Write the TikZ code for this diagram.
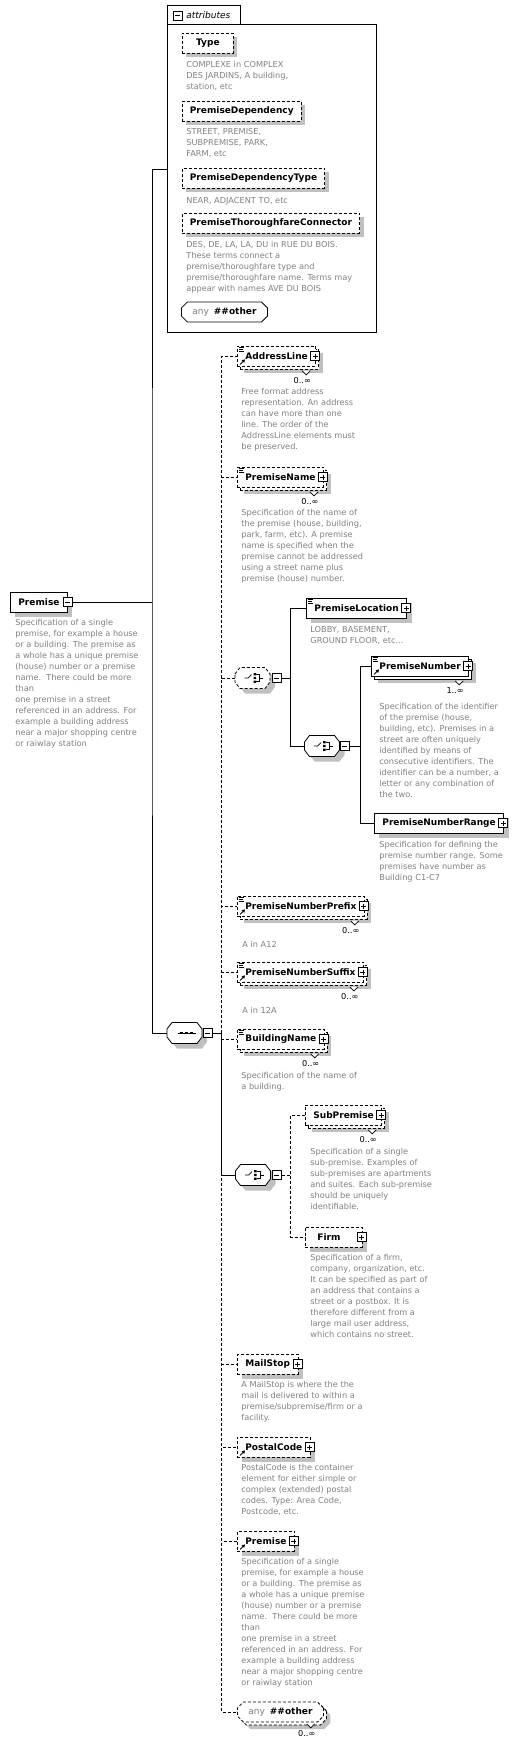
\documentclass[tikz,border=0pt]{standalone}
\usepackage{fontspec}
\setmainfont{DejaVu Sans}
\usetikzlibrary{shapes.misc,shadows,arrows.meta}

\definecolor{descgray}{RGB}{128,128,128}
\definecolor{shadowgray}{RGB}{192,192,192}

\newcommand{\elemfont}{\fontsize{9}{11}\selectfont\bfseries}
\newcommand{\descfont}{\fontsize{8.2}{11}\selectfont}
\newcommand{\multfont}{\fontsize{8.2}{10}\selectfont}
\newcommand{\pgap}{\hspace{10pt}}

\tikzset{
  dsh/.style={dash pattern=on 3pt off 2pt},
  shad/.style={drop shadow={shadow xshift=#1,shadow yshift=-#1,fill=shadowgray,opacity=1}},
  elem/.style={draw,fill=white,anchor=west,minimum height=20pt,inner xsep=8pt,inner ysep=0pt,font=\elemfont},
  req/.style={elem,shad=5pt},
  opt/.style={elem,shad=5pt,dsh},
  reqn/.style={elem,shad=7pt,copy shadow={shadow xshift=3pt,shadow yshift=-3pt}},
  optn/.style={elem,dsh,shad=7pt,copy shadow={shadow xshift=3pt,shadow yshift=-3pt,dsh}},
  attrib/.style={elem,dsh,shad=4pt,inner xsep=7.5pt},
  wild/.style={elem,chamfered rectangle,chamfered rectangle xsep=3pt,chamfered rectangle ysep=3pt},
  comp/.style={minimum width=35pt,minimum height=21pt,inner sep=0pt},
  pmbox/.style={draw,solid,fill=white,minimum size=9pt,inner sep=0pt},
  plusbox/.style={pmbox,path picture={
      \draw[solid,line width=0.7pt] ([xshift=2pt]path picture bounding box.west) -- ([xshift=-2pt]path picture bounding box.east)
        ([yshift=-2pt]path picture bounding box.north) -- ([yshift=2pt]path picture bounding box.south);}},
  minusbox/.style={pmbox,path picture={
      \draw[solid,line width=0.7pt] ([xshift=2pt]path picture bounding box.west) -- ([xshift=-2pt]path picture bounding box.east);}},
  desc/.style={anchor=north west,inner sep=0pt,align=left,font=\descfont,text=descgray,execute at begin node=\strut},
  mult/.style={anchor=east,inner sep=0pt,font=\multfont},
  compframe/.pic={
    \path[draw,fill=white,shad=5pt,pic actions] (-17.5,-4) -- (-12.5,-10.5) -- (12.5,-10.5) -- (17.5,-4)
      -- (17.5,4) -- (12.5,10.5) -- (-12.5,10.5) -- (-17.5,4) -- cycle;
  },
  choiceicon/.pic={
    \draw[line width=0.7pt] (-9,0) -- (-5.5,0) -- (-2,-3.5);
    \fill (0,-4.8) rectangle (2.6,-2.6) (0,-1.1) rectangle (2.6,1.1) (0,2.6) rectangle (2.6,4.8);
    \draw[line width=0.7pt] (2.6,-3.7) -- (6,-3.7) -- (6,3.7) -- (2.6,3.7) (6,0) -- (9.5,0);
  },
  seqicon/.pic={
    \draw[line width=0.7pt] (-9,0) -- (9,0);
    \foreach \i in {-5,0,5} \fill (\i-1.2,-1.2) rectangle (\i+1.2,1.2);
  }
}

\begin{document}
\begin{tikzpicture}[x=1pt,y=-1pt,line width=0.8pt]
\useasboundingbox (0,0) rectangle (526,1746);

% root element
\node[req] (prm) at (10,602) {Premise\hspace{2pt}};
\node[minusbox] (prm-m) at (prm.east) {};
\node[desc] (prm-d) at (15,619.3) {Specification of a single\\premise, for example a house\\or a building. The premise as\\a whole has a unique premise\\(house) number or a premise\\name.\ \ There could be more\\than\\one premise in a street\\referenced in an address. For\\example a building address\\near a major shopping centre\\or raiwlay station};

% attributes
\node[draw,anchor=north west,minimum width=209pt,minimum height=308pt,inner sep=0pt] (attr) at (167,24) {};
\draw (attr.north west) -- ++(0,-19) -- ++(73,0) -- ++(0,19);
\node[minusbox] (attr-m) at (177.5,15.5) {};
\node[anchor=west,inner sep=0pt,font=\fontsize{9}{11}\selectfont\itshape] (attr-t) at (186,15) {attributes};

\node[attrib,minimum width=51pt] (type) at (182,43) {Type};
\node[desc] (type-d) at (186,61.3) {COMPLEXE in COMPLEX\\DES JARDINS, A building,\\station, etc};
\node[attrib] (pdep) at (182,111) {PremiseDependency};
\node[desc] (pdep-d) at (186,128.3) {STREET, PREMISE,\\SUBPREMISE, PARK,\\FARM, etc};
\node[attrib] (pdt) at (182,178) {PremiseDependencyType};
\node[desc] (pdt-d) at (186,195.3) {NEAR, ADJACENT TO, etc};
\node[attrib] (ptc) at (182,223) {PremiseThoroughfareConnector};
\node[desc] (ptc-d) at (186,241.3) {DES, DE, LA, LA, DU in RUE DU BOIS.\\These terms connect a\\premise/thoroughfare type and\\premise/thoroughfare name. Terms may\\appear with names AVE DU BOIS};
\node[wild] (attr-any) at (181,312) {{\mdseries\color{descgray}any}\hspace{5pt}\#\#other};

% sequence
\node[comp] (seq) at (184.5,1033) {};
\pic at (seq) {compframe};
\pic (seq-i) at ([xshift=2pt]seq.center) {seqicon};
\node[minusbox] (seq-m) at ([xshift=5.5pt]seq.east) {};

\node[optn] (al) at (237,356) {AddressLine\pgap};
\node[desc] (al-d) at (241,388.3) {Free format address\\representation. An address\\can have more than one\\line. The order of the\\AddressLine elements must\\be preserved.};
\node[optn] (pname) at (237,477) {PremiseName\pgap};
\node[desc] (pname-d) at (241,509.3) {Specification of the name of\\the premise (house, building,\\park, farm, etc). A premise\\name is specified when the\\premise cannot be addressed\\using a street name plus\\premise (house) number.};

% choice: location or number
\node[comp] (ch1) at (252.5,678) {};
\pic[dsh] at (ch1) {compframe};
\pic (ch1-i) at ([xshift=1pt]ch1.center) {choiceicon};
\node[minusbox] (ch1-m) at ([xshift=6pt]ch1.east) {};
\node[req] (ploc) at (306,608) {PremiseLocation\pgap};
\node[desc] (ploc-d) at (310,626.3) {LOBBY, BASEMENT,\\GROUND FLOOR, etc...};

\node[comp] (ch2) at (322,746) {};
\pic at (ch2) {compframe};
\pic (ch2-i) at ([xshift=1pt]ch2.center) {choiceicon};
\node[minusbox] (ch2-m) at ([xshift=5pt]ch2.east) {};
\node[reqn] (pnum) at (371,666) {PremiseNumber\pgap};
\node[desc] (pnum-d) at (379,703.3) {Specification of the identifier\\of the premise (house,\\building, etc). Premises in a\\street are often uniquely\\identified by means of\\consecutive identifiers. The\\identifier can be a number, a\\letter or any combination of\\the two.};
\node[req] (pnr) at (374,823) {PremiseNumberRange\pgap};
\node[desc] (pnr-d) at (379,841.3) {Specification for defining the\\premise number range. Some\\premises have number as\\Building C1-C7};

\node[optn] (pfx) at (237,906) {PremiseNumberPrefix\pgap};
\node[desc] (pfx-d) at (242,939.3) {A in A12};
\node[optn] (sfx) at (237,972) {PremiseNumberSuffix\pgap};
\node[desc] (sfx-d) at (242,1005.3) {A in 12A};
\node[optn] (bn) at (237,1039) {BuildingName\pgap};
\node[desc] (bn-d) at (241,1072.3) {Specification of the name of\\a building.};

% choice: subpremise or firm
\node[comp] (ch3) at (253,1175) {};
\pic at (ch3) {compframe};
\pic (ch3-i) at ([xshift=1pt]ch3.center) {choiceicon};
\node[minusbox] (ch3-m) at ([xshift=6pt]ch3.east) {};
\node[optn] (subp) at (305,1115) {SubPremise\pgap};
\node[desc] (subp-d) at (310,1148.3) {Specification of a single\\sub-premise. Examples of\\sub-premises are apartments\\and suites. Each sub-premise\\should be uniquely\\identifiable.};
\node[opt,minimum width=57pt] (firm) at (305,1237) {Firm\pgap\hspace{8pt}};
\node[desc] (firm-d) at (310,1254.3) {Specification of a firm,\\company, organization, etc.\\It can be specified as part of\\an address that contains a\\street or a postbox. It is\\therefore different from a\\large mail user address,\\which contains no street.};

\node[opt] (ms) at (237,1364) {MailStop\pgap};
\node[desc] (ms-d) at (241,1381.3) {A MailStop is where the the\\mail is delivered to within a\\premise/subpremise/firm or a\\facility.};
\node[opt] (pc) at (237,1447) {PostalCode\pgap};
\node[desc] (pc-d) at (241,1464.3) {PostalCode is the container\\element for either simple or\\complex (extended) postal\\codes. Type: Area Code,\\Postcode, etc.};
\node[opt] (pref) at (237,1541) {Premise\pgap};
\node[desc] (pref-d) at (241,1558.3) {Specification of a single\\premise, for example a house\\or a building. The premise as\\a whole has a unique premise\\(house) number or a premise\\name.\ \ There could be more\\than\\one premise in a street\\referenced in an address. For\\example a building address\\near a major shopping centre\\or raiwlay station};
\node[optn,chamfered rectangle,chamfered rectangle xsep=3pt,chamfered rectangle ysep=3pt] (anyo) at (237,1712) {{\mdseries\color{descgray}any}\hspace{5pt}\#\#other};

% markers
\foreach \n in {al,pname,ploc,pnum,pnr,pfx,sfx,bn,subp,firm,ms,pc,pref}
  \node[plusbox] (\n-p) at ([xshift=-1pt]\n.east) {};
\foreach \n in {al,pname,ploc,pnum,pfx,sfx,bn}
  \draw[line width=0.7pt] (\n.north west) ++(1.5,1.5) -- ++(5.5,0) ++(-5.5,2.2) -- ++(4,0) ++(-4,2.2) -- ++(5.5,0);
\foreach \n in {al,pnum,pfx,sfx,pc,pref}
  \draw[line width=0.9pt,-{Triangle[length=3pt,width=3.5pt]}] (\n.south west) ++(3,-2) -- ++(5,-5);
\foreach \n in {al,pname,pnum,pfx,sfx,bn,subp,anyo}
  \filldraw[fill=white,line width=0.7pt] (\n.south east) ++(-14,4.5) -- ++(4,4) -- ++(4,-4);
\foreach \n/\m in {al/0,pname/0,pnum/1,pfx/0,sfx/0,bn/0,subp/0,anyo/0}
  \node[mult] (\n-x) at ([xshift=-5pt,yshift=-14pt]\n.south east) {\m..∞};

% connectors
\coordinate (bus) at (152,602);
\coordinate (attr-in) at (167,169);
\coordinate (sq) at ([xshift=9pt]seq-m.east);
\coordinate (c1bus) at ([xshift=9pt]ch1-m.east);
\coordinate (c2bus) at ([xshift=11pt]ch2-m.east);
\coordinate (c3bus) at ([xshift=9pt]ch3-m.east);

\draw (prm-m) -- (bus);
\draw (seq) -| (bus) |- (attr-in);
\draw (seq-m) -- (sq);
\foreach \n in {al,pname,ch1,pfx,sfx,bn,ms,pc,pref,anyo}
  \draw[dsh] (sq) |- (\n);
\draw (sq) |- (ch3);
\draw (ch1-m) -- (c1bus);
\draw (c1bus) |- (ploc);
\draw (c1bus) |- (ch2);
\draw (ch2-m) -- (c2bus);
\draw (c2bus) |- (pnum);
\draw (c2bus) |- (pnr);
\draw[dsh] (ch3-m) -- (c3bus) |- (subp);
\draw[dsh] (ch3-m) -- (c3bus) |- (firm);

\end{tikzpicture}
\end{document}
